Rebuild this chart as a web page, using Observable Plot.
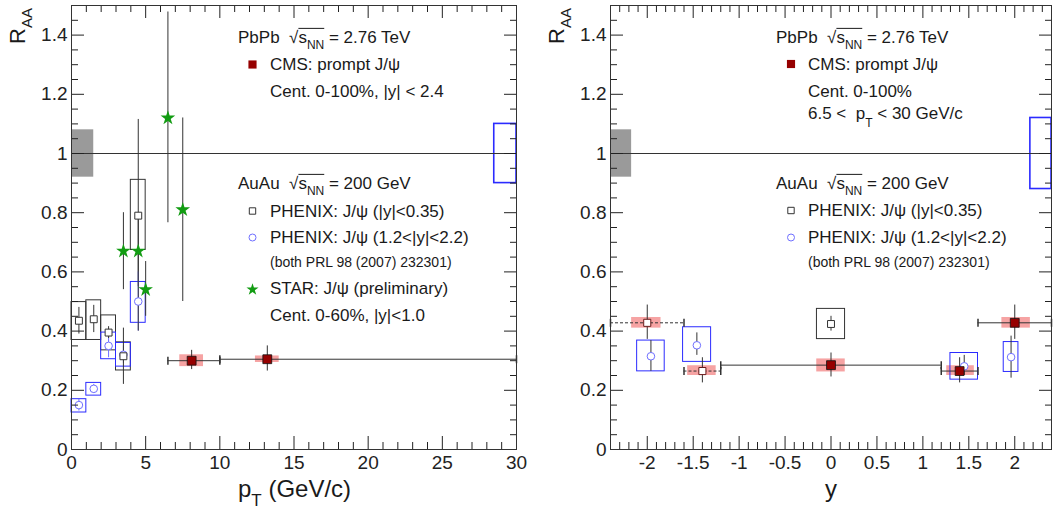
<!DOCTYPE html>
<html><head><meta charset="utf-8">
<script src="https://cdn.jsdelivr.net/npm/d3@7"></script>
<script src="https://cdn.jsdelivr.net/npm/@observablehq/plot@0.6"></script>
<style>
body{margin:0;background:#fff;}
#wrap{display:flex;width:1053px;height:511px;overflow:hidden;}
svg{display:block;}
</style></head><body><div id="wrap"></div>
<script>
// ---------- tick labels ----------
const ptTicks = [0, 5, 10, 15, 20, 25, 30];
const rapTicks = [-2, -1.5, -1, -0.5, 0, 0.5, 1, 1.5, 2];
const raaTicks = [0, 0.2, 0.4, 0.6, 0.8, 1, 1.2, 1.4];

// ---------- LEFT PANEL: RAA vs pT ----------
// CMS prompt J/psi
const cmsPt = [8.1, 13.2];
const cmsPtRaa = [0.30, 0.305];
const cmsPtBinLo = [6.5, 10];
const cmsPtBinHi = [10, 30];
const cmsPtStatLo = [0.27, 0.265];
const cmsPtStatHi = [0.335, 0.35];
const cmsPtSysXLo = [7.3, 12.4];
const cmsPtSysXHi = [8.9, 14.0];
const cmsPtSysLo = [0.28, 0.294];
const cmsPtSysHi = [0.32, 0.316];
// PHENIX |y|<0.35
const phxPt = [0.5, 1.5, 2.5, 3.5, 4.5];
const phxPtBinLo = [0, 1, 2, 3, 4];
const phxPtBinHi = [1, 2, 3, 4, 5];
const phxMidRaa = [0.435, 0.44, 0.395, 0.315, 0.79];
const phxMidStatLo = [0.39, 0.395, 0.375, 0.22, 0.40];
const phxMidStatHi = [0.48, 0.487, 0.415, 0.41, 1.115];
const phxMidSysLo = [0.37, 0.37, 0.335, 0.267, 0.674];
const phxMidSysHi = [0.498, 0.504, 0.453, 0.362, 0.911];
// PHENIX 1.2<|y|<2.2
const phxFwdRaa = [0.15, 0.205, 0.35, 0.32, 0.50];
const phxFwdStatLo = [0.13, 0.19, 0.31, 0.29, 0.40];
const phxFwdStatHi = [0.17, 0.22, 0.39, 0.35, 0.60];
const phxFwdSysLo = [0.125, 0.182, 0.305, 0.28, 0.428];
const phxFwdSysHi = [0.17, 0.225, 0.395, 0.36, 0.566];
// STAR preliminary
const starPt = [3.5, 4.5, 5.0, 6.5, 7.5];
const starRaa = [0.67, 0.67, 0.54, 1.12, 0.81];
const starLo = [0.54, 0.55, 0.45, 0.766, 0.50];
const starHi = [0.80, 0.79, 0.635, 1.478, 1.12];
// global uncertainties (pT panel)
const ptGlobalCms = {x1: 0, x2: 1.5, y1: 0.92, y2: 1.08};
const ptGlobalPhx = {x1: 28.5, x2: 30, y1: 0.9, y2: 1.1};

// ---------- RIGHT PANEL: RAA vs y ----------
const cmsY = [0, 1.4, 2.0];
const cmsYRaa = [0.285, 0.265, 0.428];
const cmsYBinLo = [-1.2, 1.2, 1.6];
const cmsYBinHi = [1.2, 1.6, 2.4];
const cmsYStatLo = [0.245, 0.225, 0.372];
const cmsYStatHi = [0.326, 0.31, 0.488];
const cmsYSysXLo = [-0.155, 1.26, 1.86];
const cmsYSysXHi = [0.155, 1.56, 2.17];
const cmsYSysLo = [0.262, 0.25, 0.41];
const cmsYSysHi = [0.306, 0.283, 0.446];
// reflected CMS points
const cmsMirY = [-2.0, -1.4];
const cmsMirRaa = [0.428, 0.265];
const cmsMirBinLo = [-2.4, -1.6];
const cmsMirBinHi = [-1.6, -1.2];
const cmsMirStatLo = [0.372, 0.225];
const cmsMirStatHi = [0.488, 0.31];
const cmsMirSysXLo = [-2.17, -1.56];
const cmsMirSysXHi = [-1.85, -1.25];
const cmsMirSysLo = [0.41, 0.25];
const cmsMirSysHi = [0.446, 0.283];
// PHENIX mid-rapidity
const phxMidY = [0];
const phxMidYRaa = [0.424];
const phxMidYStatLo = [0.40];
const phxMidYStatHi = [0.45];
const phxMidYSysXLo = [-0.153];
const phxMidYSysXHi = [0.153];
const phxMidYSysLo = [0.373];
const phxMidYSysHi = [0.475];
// PHENIX forward
const phxFwdY = [-1.96, -1.46, 1.45, 1.96];
const phxFwdYRaa = [0.315, 0.352, 0.281, 0.312];
const phxFwdYStatLo = [0.264, 0.318, 0.25, 0.241];
const phxFwdYStatHi = [0.368, 0.394, 0.318, 0.383];
const phxFwdYSysXLo = [-2.11, -1.61, 1.30, 1.88];
const phxFwdYSysXHi = [-1.81, -1.305, 1.60, 2.04];
const phxFwdYSysLo = [0.264, 0.296, 0.236, 0.262];
const phxFwdYSysHi = [0.368, 0.413, 0.326, 0.363];
const yGlobalCms = {x1: -2.4, x2: -2.17, y1: 0.92, y2: 1.08};
const yGlobalPhx = {x1: 2.17, x2: 2.4, y1: 0.88, y2: 1.12};

// ---------- helpers ----------
const zip = (cols) => cols[Object.keys(cols)[0]].map((_, i) =>
  Object.fromEntries(Object.entries(cols).map(([k, v]) => [k, v[i]])));
const C = {
  cms: "#960000", pink: "#f6a3a3", line: "#333", blueBox: "#2b2bff",
  blueDot: "#6f6fff", green: "#129c12", gray: "#9a9a9a"
};
const vline = {draw(ctx, size) { const h = Math.sqrt(size / Math.PI); ctx.moveTo(0, -h); ctx.lineTo(0, h); }};
const fmt = d => String(d);
const blank = () => "";
const FONT = "'Liberation Sans', Arial, Helvetica, sans-serif";

function axes(xMajor, xMinor, yMajor, yMinor) {
  const o = {label: null};
  return [
    Plot.axisX(xMajor, {...o, anchor: "bottom", tickSize: -13, tickPadding: 19, tickFormat: fmt, fontSize: 19}),
    Plot.axisX(xMinor, {...o, anchor: "bottom", tickSize: -7, tickFormat: blank}),
    Plot.axisX(xMajor, {...o, anchor: "top", tickSize: -12, tickFormat: blank}),
    Plot.axisX(xMinor, {...o, anchor: "top", tickSize: -6, tickFormat: blank}),
    Plot.axisY(yMajor, {...o, anchor: "left", tickSize: -13, tickPadding: 17, tickFormat: fmt, fontSize: 19}),
    Plot.axisY(yMinor, {...o, anchor: "left", tickSize: -7, tickFormat: blank}),
    Plot.axisY(yMajor, {...o, anchor: "right", tickSize: -13, tickFormat: blank}),
    Plot.axisY(yMinor, {...o, anchor: "right", tickSize: -7, tickFormat: blank}),
    Plot.frame({stroke: C.line})
  ];
}
const raaMinor = d3.range(0, 1.5001, 0.05).map(v => +v.toFixed(2)).filter(v => Math.abs(v / 0.2 - Math.round(v / 0.2)) > 1e-6);

// ---------- build rows ----------
const cmsPtRows = zip({x: cmsPt, y: cmsPtRaa, lo: cmsPtBinLo, hi: cmsPtBinHi, sLo: cmsPtStatLo, sHi: cmsPtStatHi, bx1: cmsPtSysXLo, bx2: cmsPtSysXHi, by1: cmsPtSysLo, by2: cmsPtSysHi});
const phxMidRows = zip({x: phxPt, y: phxMidRaa, sLo: phxMidStatLo, sHi: phxMidStatHi, bx1: phxPtBinLo, bx2: phxPtBinHi, by1: phxMidSysLo, by2: phxMidSysHi});
const phxFwdRows = zip({x: phxPt, y: phxFwdRaa, sLo: phxFwdStatLo, sHi: phxFwdStatHi, bx1: phxPtBinLo, bx2: phxPtBinHi, by1: phxFwdSysLo, by2: phxFwdSysHi});
const starRows = zip({x: starPt, y: starRaa, sLo: starLo, sHi: starHi});

const cmsYRows = zip({x: cmsY, y: cmsYRaa, lo: cmsYBinLo, hi: cmsYBinHi, sLo: cmsYStatLo, sHi: cmsYStatHi, bx1: cmsYSysXLo, bx2: cmsYSysXHi, by1: cmsYSysLo, by2: cmsYSysHi});
const cmsMirRows = zip({x: cmsMirY, y: cmsMirRaa, lo: cmsMirBinLo, hi: cmsMirBinHi, sLo: cmsMirStatLo, sHi: cmsMirStatHi, bx1: cmsMirSysXLo, bx2: cmsMirSysXHi, by1: cmsMirSysLo, by2: cmsMirSysHi});
const phxMidYRows = zip({x: phxMidY, y: phxMidYRaa, sLo: phxMidYStatLo, sHi: phxMidYStatHi, bx1: phxMidYSysXLo, bx2: phxMidYSysXHi, by1: phxMidYSysLo, by2: phxMidYSysHi});
const phxFwdYRows = zip({x: phxFwdY, y: phxFwdYRaa, sLo: phxFwdYStatLo, sHi: phxFwdYStatHi, bx1: phxFwdYSysXLo, bx2: phxFwdYSysXHi, by1: phxFwdYSysLo, by2: phxFwdYSysHi});
const caps = rows => rows.flatMap(d => [{x: d.lo, y: d.y}, {x: d.hi, y: d.y}]);

const box = (rows, opts) => Plot.rect(rows, {x1: "bx1", x2: "bx2", y1: "by1", y2: "by2", ...opts});
const stat = (rows, stroke) => Plot.ruleX(rows, {x: "x", y1: "sLo", y2: "sHi", stroke, strokeWidth: 1});

const common = {height: 511, marginTop: 5, marginBottom: 62, y: {domain: [0, 1.5]},
  style: {fontFamily: FONT, fontSize: "19px", color: "#222", background: "white", overflow: "visible"}};

const left = Plot.plot({
  ...common, width: 530, marginLeft: 71, marginRight: 14,
  x: {domain: [0, 30]},
  marks: [
    Plot.rect([ptGlobalCms], {x1: "x1", x2: "x2", y1: "y1", y2: "y2", fill: C.gray}),
    Plot.rect([ptGlobalPhx], {x1: "x1", x2: "x2", y1: "y1", y2: "y2", fill: "none", stroke: C.blueBox, strokeWidth: 1.6}),
    Plot.ruleY([1], {stroke: C.line}),
    box(cmsPtRows, {fill: C.pink}),
    box(phxMidRows, {fill: "none", stroke: C.line}),
    box(phxFwdRows, {fill: "none", stroke: C.blueBox}),
    stat(starRows, C.line),
    stat(phxFwdRows, C.blueDot),
    stat(phxMidRows, C.line),
    stat(cmsPtRows, C.line),
    Plot.ruleY(cmsPtRows, {y: "y", x1: "lo", x2: "hi", stroke: C.line}),
    Plot.dot(caps(cmsPtRows), {x: "x", y: "y", symbol: vline, r: 4, fill: "none", stroke: C.line}),
    Plot.dot(phxFwdRows, {x: "x", y: "y", symbol: "circle", r: 3.8, fill: "white", stroke: C.blueDot, strokeWidth: 1}),
    Plot.dot(phxMidRows, {x: "x", y: "y", symbol: "square", r: 3.9, fill: "white", stroke: C.line, strokeWidth: 1}),
    Plot.dot(starRows, {x: "x", y: "y", symbol: "star", r: 4.6, fill: C.green, stroke: "none"}),
    Plot.dot(cmsPtRows, {x: "x", y: "y", symbol: "square", r: 5, fill: C.cms, stroke: "#111", strokeWidth: 0.8}),
    ...axes(ptTicks, d3.range(0, 31).filter(v => v % 5 !== 0), raaTicks, raaMinor)
  ]
});

const rapMinor = d3.range(-24, 25).filter(v => v % 5 !== 0).map(v => v / 10);
const right = Plot.plot({
  ...common, width: 523, marginLeft: 80, marginRight: 2,
  x: {domain: [-2.4, 2.4]},
  marks: [
    Plot.rect([yGlobalCms], {x1: "x1", x2: "x2", y1: "y1", y2: "y2", fill: C.gray}),
    Plot.rect([yGlobalPhx], {x1: "x1", x2: "x2", y1: "y1", y2: "y2", fill: "none", stroke: C.blueBox, strokeWidth: 1.6}),
    Plot.ruleY([1], {stroke: C.line}),
    box(cmsYRows, {fill: C.pink}),
    box(cmsMirRows, {fill: C.pink}),
    box(phxMidYRows, {fill: "none", stroke: C.line}),
    box(phxFwdYRows, {fill: "none", stroke: C.blueBox}),
    stat(phxFwdYRows, C.line),
    stat(phxMidYRows, C.line),
    stat(cmsYRows, C.line),
    stat(cmsMirRows, C.line),
    Plot.ruleY(cmsYRows, {y: "y", x1: "lo", x2: "hi", stroke: C.line}),
    Plot.ruleY(cmsMirRows, {y: "y", x1: "lo", x2: "hi", stroke: C.line, strokeDasharray: "3,2"}),
    Plot.dot(caps(cmsYRows).concat(caps(cmsMirRows)), {x: "x", y: "y", symbol: vline, r: 4, fill: "none", stroke: C.line}),
    Plot.dot(phxFwdYRows, {x: "x", y: "y", symbol: "circle", r: 3.8, fill: "white", stroke: C.blueDot, strokeWidth: 1}),
    Plot.dot(phxMidYRows, {x: "x", y: "y", symbol: "square", r: 3.9, fill: "white", stroke: C.line, strokeWidth: 1}),
    Plot.dot(cmsMirRows, {x: "x", y: "y", symbol: "square", r: 4, fill: "white", stroke: "#6a1a1a", strokeWidth: 1}),
    Plot.dot(cmsYRows, {x: "x", y: "y", symbol: "square", r: 5, fill: C.cms, stroke: "#111", strokeWidth: 0.8}),
    ...axes(rapTicks, rapMinor, raaTicks, raaMinor)
  ]
});

const wrap = document.getElementById("wrap");
wrap.append(left, right);

// ---------- rich text (titles & legends) ----------
function rich(svg, x, y, parts, {size = 17, sub = 12, dy = 6, anchor = "start", transform = null} = {}) {
  const t = d3.select(svg).append("text")
    .attr("font-family", FONT).attr("font-size", size).attr("fill", "#1a1a1a")
    .attr("text-anchor", anchor);
  if (transform) t.attr("transform", transform); else t.attr("x", x).attr("y", y);
  let shifted = false, idx = 0, ov = [];
  for (const [s, kind = ""] of parts) {
    const sp = t.append("tspan").text(s);
    const isSub = kind.includes("sub");
    if (isSub && !shifted) { sp.attr("dy", dy); shifted = true; }
    else if (!isSub && shifted) { sp.attr("dy", -dy); shifted = false; }
    if (isSub) sp.attr("font-size", sub);
    if (kind.includes("ov")) ov.push([idx, idx + s.length - 1]);
    idx += s.length;
  }
  if (ov.length) {
    const n = t.node();
    const x0 = n.getStartPositionOfChar(ov[0][0]).x;
    const x1 = n.getEndPositionOfChar(ov[ov.length - 1][1]).x;
    const yy = y - size * 0.86;
    d3.select(svg).append("line").attr("x1", x0).attr("x2", x1).attr("y1", yy).attr("y2", yy)
      .attr("stroke", "#1a1a1a").attr("stroke-width", 1);
  }
  return t;
}
function marker(svg, x, y, type, r, fill, stroke) {
  d3.select(svg).append("path")
    .attr("d", d3.symbol(type, Math.PI * r * r)())
    .attr("transform", `translate(${x},${y})`)
    .attr("fill", fill).attr("stroke", stroke).attr("stroke-width", 1);
}
const sqrtS = (pre, post) => [[pre], ["√"], ["s", "ov"], ["NN", "sub ov"], [post]];

// axis titles
rich(left, 0, 0, [["R"], ["AA", "sub"]], {size: 22, sub: 15, dy: 7, anchor: "end", transform: "translate(25,8) rotate(-90)"});
rich(right, 0, 0, [["R"], ["AA", "sub"]], {size: 22, sub: 15, dy: 7, anchor: "end", transform: "translate(34,8) rotate(-90)"});
rich(left, 238, 497, [["p"], ["T", "sub"], [" (GeV/c)"]], {size: 24, sub: 17, dy: 9});
rich(right, 301, 497, [["y"]], {size: 24, anchor: "middle"});

// left legend
{
  const s = left, hx = 238, mx = 252.5, tx = 270;
  rich(s, hx, 43, sqrtS("PbPb  ", " = 2.76 TeV"));
  marker(s, mx, 64.5, d3.symbolSquare, 4.6, C.cms, "none");
  rich(s, tx, 70, [["CMS: prompt J/ψ"]]);
  rich(s, tx, 97, [["Cent. 0-100%, |y| < 2.4"]]);
  rich(s, hx, 189, sqrtS("AuAu  ", " = 200 GeV"));
  marker(s, mx, 211, d3.symbolSquare, 3.6, "white", C.line);
  rich(s, tx, 217, [["PHENIX: J/ψ (|y|<0.35)"]]);
  marker(s, mx, 237.5, d3.symbolCircle, 3.5, "white", C.blueDot);
  rich(s, tx, 243, [["PHENIX: J/ψ (1.2<|y|<2.2)"]]);
  rich(s, tx, 267, [["(both PRL 98 (2007) 232301)"]], {size: 14});
  marker(s, mx, 289.5, d3.symbolStar, 3.8, C.green, "none");
  rich(s, tx, 294, [["STAR: J/ψ (preliminary)"]]);
  rich(s, tx, 321, [["Cent. 0-60%, |y|<1.0"]]);
}
// right legend
{
  const s = right, hx = 246, mx = 261, tx = 278;
  rich(s, hx, 43, sqrtS("PbPb  ", " = 2.76 TeV"));
  marker(s, mx, 64, d3.symbolSquare, 4.6, C.cms, "none");
  rich(s, tx, 70, [["CMS: prompt J/ψ"]]);
  rich(s, tx, 97, [["Cent. 0-100%"]]);
  rich(s, tx, 119, [["6.5 <  p"], ["T", "sub"], [" < 30 GeV/c"]], {dy: 8});
  rich(s, hx, 189, sqrtS("AuAu  ", " = 200 GeV"));
  marker(s, mx, 210.5, d3.symbolSquare, 3.6, "white", C.line);
  rich(s, tx, 216, [["PHENIX: J/ψ (|y|<0.35)"]]);
  marker(s, mx, 237.5, d3.symbolCircle, 3.5, "white", C.blueDot);
  rich(s, tx, 243, [["PHENIX: J/ψ (1.2<|y|<2.2)"]]);
  rich(s, tx, 267, [["(both PRL 98 (2007) 232301)"]], {size: 14});
}
</script></body></html>
